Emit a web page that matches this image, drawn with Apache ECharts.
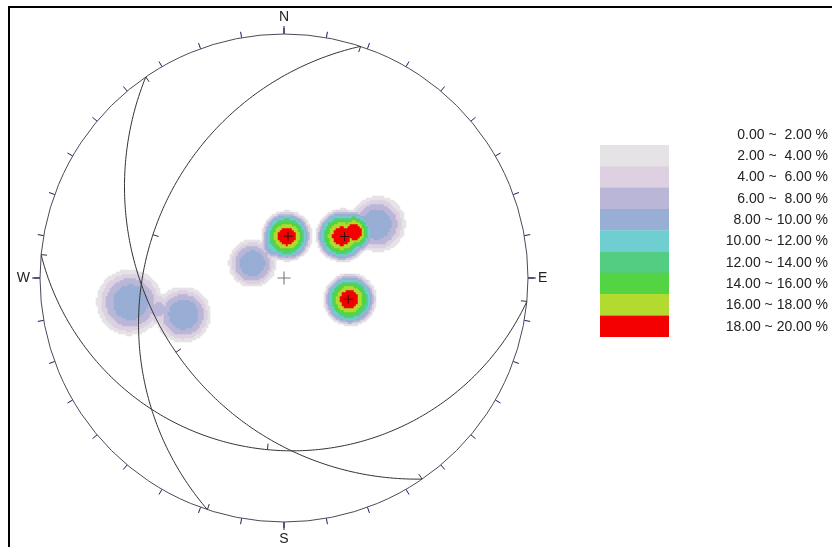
<!DOCTYPE html>
<html>
<head>
<meta charset="utf-8">
<script src="https://cdn.jsdelivr.net/npm/echarts@6/dist/echarts.min.js"></script>
<style>
  html, body { margin: 0; padding: 0; background: #fff; }
  #chart { width: 832px; height: 547px; }
</style>
</head>
<body>
<div id="chart"></div>
<script>
// -----------------------------------------------------------------------------
// Stereonet (equal angle, lower hemisphere) - great circles + pole density
// -----------------------------------------------------------------------------

// planes read from the great circles (dip direction / dip, degrees)
const planeDipDir = [185.5, 235.5, 288.3];
const planeDip = [19.5, 33.5, 31];

// pole clusters behind the density contours (trend / plunge, degrees) and peak %
const clusterTrend = [4, 54, 60, 108, 295, 261, 250];
const clusterPlunge = [70.6, 57.3, 42.7, 58.5, 73.9, 25.3, 42.9];
const clusterPeak = [19.6, 19.6, 9.9, 19.6, 9.9, 9.9, 9.9];

// contour bands
const bandMin = [2, 4, 6, 8, 10, 12, 14, 16, 18];
const bandColors = ["#e5e3e5", "#dcd0e1", "#b9b6d7", "#98aed4", "#6fcfd0", "#52cd82", "#52d443", "#b3da2e", "#f40000"];
const bandLabels = [
  "0.00 ~  2.00 %", "2.00 ~  4.00 %", "4.00 ~  6.00 %", "6.00 ~  8.00 %", "8.00 ~ 10.00 %",
  "10.00 ~ 12.00 %", "12.00 ~ 14.00 %", "14.00 ~ 16.00 %", "16.00 ~ 18.00 %", "18.00 ~ 20.00 %"
];
const cardinalLabels = ["N", "E", "S", "W"];

const D2R = Math.PI / 180;
const CX = 284, CY = 278, R = 244;
const CELLS = 244; // 2px cells over the net

function toVec(trend, plunge) {
  const t = trend * D2R, p = plunge * D2R;
  return [Math.cos(p) * Math.sin(t), Math.cos(p) * Math.cos(t), Math.sin(p)];
}

// equal angle projection of a unit vector (lower hemisphere) -> [r, azimuth]
function project(v) {
  let [e, n, d] = v;
  if (d < 0) { e = -e; n = -n; d = -d; }
  const r = Math.sqrt(e * e + n * n) / (1 + d);
  let az = Math.atan2(e, n) / D2R;
  if (az < 0) az += 360;
  return [r, az];
}

// counting kernel on the sphere (angle in degrees)
const edgeAngle = 12, kernelPower = 2.3;
function kernel(theta) {
  if (theta >= edgeAngle) return 0;
  return 1 - Math.pow(theta / edgeAngle, kernelPower);
}

const clusterVecs = clusterTrend.map((t, i) => toVec(t, clusterPlunge[i]));

function densityData() {
  const out = [];
  for (let i = 0; i < CELLS; i++) {
    for (let j = 0; j < CELLS; j++) {
      const x = (2 * i + 1 - CELLS) / CELLS;
      const y = (2 * j + 1 - CELLS) / CELLS;
      const r = Math.sqrt(x * x + y * y);
      if (r > 1) continue;
      const phi = 2 * Math.atan(r);
      const s = r > 0 ? Math.sin(phi) / r : 0;
      const v = [x * s, y * s, Math.cos(phi)];
      let val = 0;
      clusterVecs.forEach((c, k) => {
        const dot = Math.min(1, v[0] * c[0] + v[1] * c[1] + v[2] * c[2]);
        val += clusterPeak[k] * kernel(Math.acos(dot) / D2R);
      });
      if (val >= 2) out.push([i, j, Math.min(val, 19.99)]);
    }
  }
  return out;
}

function greatCircle(dipDir, dip) {
  const s = (dipDir - 90) * D2R, D = dipDir * D2R, d = dip * D2R;
  const pts = [];
  for (let b = 0; b <= 180; b += 1) {
    const cb = Math.cos(b * D2R), sb = Math.sin(b * D2R);
    const v = [
      cb * Math.sin(s) + sb * Math.cos(d) * Math.sin(D),
      cb * Math.cos(s) + sb * Math.cos(d) * Math.cos(D),
      sb * Math.sin(d)
    ];
    pts.push(project(v));
  }
  return pts;
}

const tickLen = 6 / R;
const lineColor = "#333333";

const series = [];
series.push({
  type: "heatmap",
  xAxisIndex: 0,
  yAxisIndex: 0,
  data: densityData(),
  progressive: 0,
  itemStyle: { borderWidth: 0 },
  emphasis: { disabled: true },
  silent: true,
  z: 1
});

planeDipDir.forEach((dd, i) => {
  series.push({
    type: "line",
    coordinateSystem: "polar",
    polarIndex: 0,
    data: greatCircle(dd, planeDip[i]),
    symbol: "none",
    lineStyle: { color: lineColor, width: 1 },
    silent: true,
    z: 3
  });
  // small marks: both strike ends and the dip point, pointing to the centre
  const rDip = Math.tan((45 - planeDip[i] / 2) * D2R);
  const marks = [[1, (dd + 270) % 360], [1, (dd + 90) % 360], [rDip, dd]];
  marks.forEach(([r, a]) => {
    series.push({
      type: "line",
      coordinateSystem: "polar",
      polarIndex: 0,
      data: [[r, a], [r - tickLen, a]],
      symbol: "none",
      lineStyle: { color: lineColor, width: 1 },
      silent: true,
      z: 3
    });
  });
});

// poles of the planes
series.push({
  type: "scatter",
  coordinateSystem: "polar",
  polarIndex: 0,
  data: planeDipDir.map((dd, i) => [Math.tan(planeDip[i] / 2 * D2R), (dd + 180) % 360]),
  symbol: "path://M-6,-0.7h12v1.4h-12z M-0.7,-6h1.4v12h-1.4z",
  symbolSize: 9,
  itemStyle: { color: "#111" },
  silent: true,
  z: 4
});

// centre cross
series.push({
  type: "scatter",
  coordinateSystem: "polar",
  polarIndex: 0,
  data: [[0, 0]],
  symbol: "path://M-6,-0.5h12v1h-12z M-0.5,-6h1v12h-1z",
  symbolSize: 13,
  itemStyle: { color: "#555" },
  silent: true,
  z: 4
});

const idx = Array.from({ length: CELLS }, (_, i) => i);

const graphic = [
  { type: "rect", shape: { x: 9, y: 7, width: 900, height: 700 }, style: { fill: "none", stroke: "#000", lineWidth: 2 }, silent: true }
];
bandColors.forEach((c, i) => {
  graphic.push({
    type: "rect",
    shape: { x: 600, y: 145 + i * 21.3, width: 69, height: 21.5 },
    style: { fill: c },
    silent: true
  });
});
bandLabels.forEach((t, i) => {
  graphic.push({
    type: "text",
    x: 828,
    y: 135 + i * 21.3,
    style: { text: t, align: "right", verticalAlign: "middle", fontSize: 14, fontFamily: "Liberation Sans", fill: "#222" },
    silent: true
  });
});

const chart = echarts.init(document.getElementById("chart"), null, { renderer: "canvas" });
chart.setOption({
  animation: false,
  backgroundColor: "#fff",
  grid: { left: CX - R, top: CY - R, width: 2 * R, height: 2 * R, show: false },
  xAxis: { type: "category", data: idx, show: false },
  yAxis: { type: "category", data: idx, show: false },
  polar: [
    { center: [CX, CY], radius: R },
    { center: [CX, CY], radius: R }
  ],
  angleAxis: [
    {
      polarIndex: 0, type: "value", min: 0, max: 360, interval: 10, startAngle: 90, clockwise: true,
      axisLine: { lineStyle: { color: "#4a4a5a", width: 1 } },
      axisTick: { show: true, length: 6, lineStyle: { color: "#1c1c5c", width: 1 } },
      axisLabel: { show: false },
      splitLine: { show: false }
    },
    {
      polarIndex: 1, type: "value", min: 0, max: 360, interval: 90, startAngle: 90, clockwise: true,
      axisLine: { show: false },
      axisTick: { show: true, length: 8, lineStyle: { color: "#1c1c5c", width: 1 } },
      axisLabel: {
        show: true, margin: 10, fontSize: 14, fontFamily: "Liberation Sans", color: "#222",
        formatter: (v) => cardinalLabels[Math.round(v / 90) % 4]
      },
      splitLine: { show: false }
    }
  ],
  radiusAxis: [
    { polarIndex: 0, type: "value", min: 0, max: 1, axisLine: { show: false }, axisTick: { show: false }, axisLabel: { show: false }, splitLine: { show: false } },
    { polarIndex: 1, type: "value", min: 0, max: 1, axisLine: { show: false }, axisTick: { show: false }, axisLabel: { show: false }, splitLine: { show: false } }
  ],
  visualMap: {
    type: "piecewise",
    show: false,
    seriesIndex: 0,
    pieces: bandMin.map((m, i) => ({ gte: m, lt: m + 2, color: bandColors[i] }))
  },
  graphic,
  series
});
</script>
</body>
</html>
